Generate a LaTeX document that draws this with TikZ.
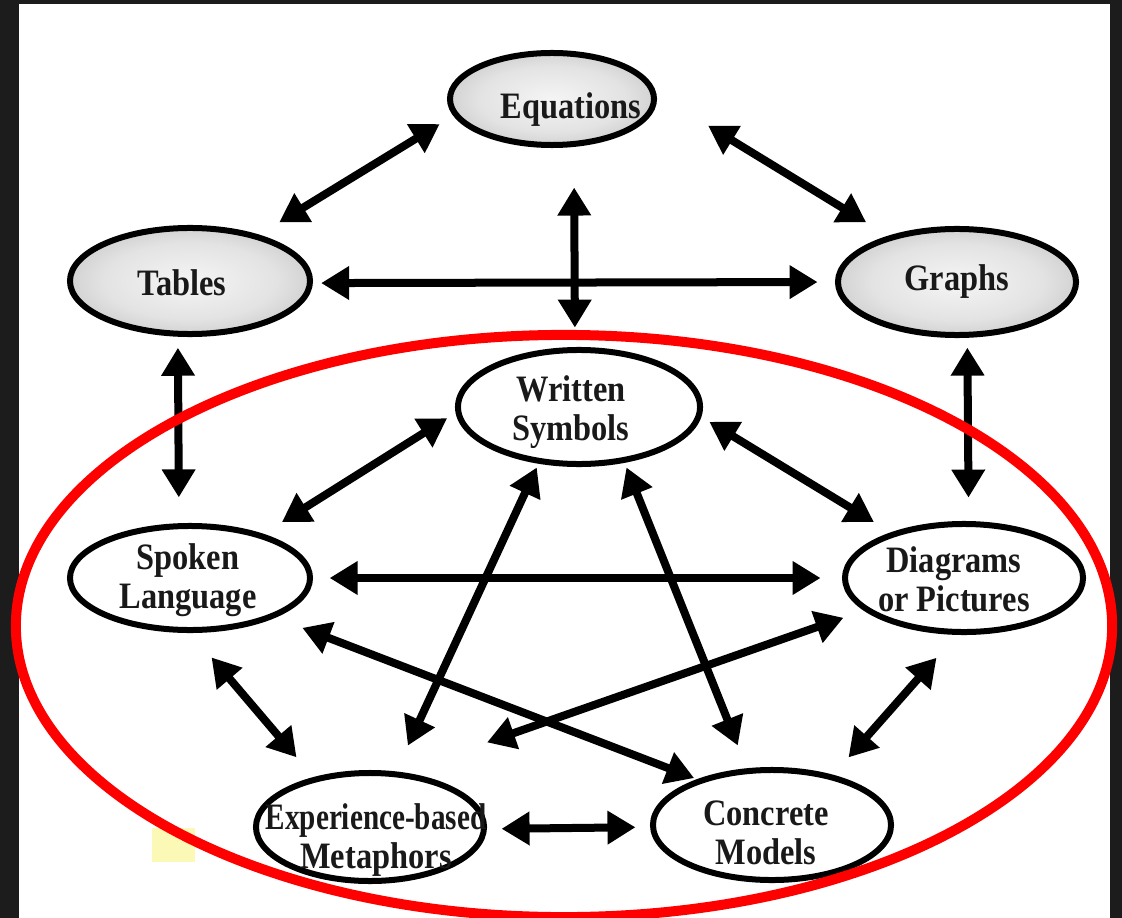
\documentclass[tikz,border=0pt]{standalone}
\usepackage{fontspec}
\setmainfont{Liberation Serif}[FakeStretch=0.87]
\usetikzlibrary{arrows.meta,shapes.geometric}
\definecolor{framedark}{RGB}{28,28,28}
\definecolor{marker}{RGB}{252,248,182}
\pgfdeclareradialshading{ovalshade}{\pgfpoint{0bp}{0bp}}{color(0bp)=(gray!8); color(18bp)=(gray!22); color(50bp)=(gray!80)}
\tikzset{
  oval/.style={ellipse, draw=black, line width=0.15cm, outer sep=0pt, inner sep=0pt, fill=white},
  grayoval/.style={oval, shade, shading=ovalshade},
  lab/.style={font=\fontsize{26.5pt}{28pt}\selectfont\bfseries, align=center, inner sep=0pt, text=black!90},
  link/.style={line width=0.2cm, {Triangle[length=0.7cm,width=0.8cm]}-{Triangle[length=0.7cm,width=0.8cm]}},
  gaps/.style 2 args={shorten <=#1, shorten >=#2}
}
\begin{document}
\begin{tikzpicture}[x=0.025cm,y=-0.025cm]
% page and frame
\useasboundingbox (0,0) rectangle (1122,918);
\fill[framedark] (0,0) rectangle (1122,918);
\fill[white] (19,4) rectangle (1110,918);
\fill[marker] (152,828) rectangle (195,862);

% representations
\node[grayoval, minimum width=5.1cm, minimum height=2.3cm] (eq) at (552,99) {};
\node[grayoval, minimum width=6.0cm, minimum height=2.65cm] (tab) at (190,281) {};
\node[grayoval, minimum width=5.95cm, minimum height=2.65cm] (gra) at (957,282) {};
\node[oval, minimum width=6.05cm, minimum height=2.85cm] (ws) at (579,407) {};
\node[oval, minimum width=6.0cm, minimum height=2.6cm] (sp) at (190,578) {};
\node[oval, minimum width=5.95cm, minimum height=2.7cm] (dia) at (964,578) {};
\node[oval, minimum width=5.7cm, minimum height=2.7cm] (met) at (370,827) {};
\node[oval, minimum width=5.95cm, minimum height=2.75cm] (con) at (772,825) {};

\node[lab] (eqt) at (571,110) {Equations};
\node[lab] (tabt) at (182,283) {Tables};
\node[lab] (grat) at (957,282) {Graphs};
\node[lab] (wst) at (571,412) {Written\\Symbols};
\node[lab] (spt) at (188,580) {Spoken\\Language};
\node[lab] (diat) at (954,579) {Diagrams\\or Pictures};
\node[lab] (mett) at (376,840) {\scalebox{0.9}[1]{Experience-based}\\Metaphors};
\node[lab] (cont) at (766,833) {Concrete\\Models};

% translations between representations
\draw[link, gaps={0.47cm}{0.69cm}] (eq.189.6) -- (tab.34);
\draw[link, gaps={1.62cm}{0.74cm}] (eq.4.5) -- (gra.146.4);
\draw[link, gaps={1.09cm}{0.56cm}] (eq.296.9) -- (ws.94);
\draw[link, gaps={0.28cm}{0.51cm}] (tab.359) -- (gra.180.5);
\draw[link, gaps={0.35cm}{0.72cm}] (tab.257.3) -- (sp.102.9);
\draw[link, gaps={0.32cm}{0.66cm}] (gra.281.7) -- (dia.85.8);
\draw[link, gaps={0.33cm}{0.64cm}] (ws.182.9) -- (sp.31.2);
\draw[link, gaps={0.31cm}{0.59cm}] (ws.356.9) -- (dia.148.9);
\draw[link, gaps={0.49cm}{0.61cm}] (sp.0) -- (dia.180);
\draw[link, gaps={0.18cm}{0.79cm}] (ws.234.4) -- (met.65.2);
\draw[link, gaps={0.20cm}{0.69cm}] (ws.310.1) -- (con.114.5);
\draw[link, gaps={0.82cm}{0.19cm}] (sp.335.1) -- (con.148.4);
\draw[link, gaps={0.63cm}{2.42cm}] (dia.198.1) -- (met.64.2);
\draw[link, gaps={0.90cm}{0.73cm}] (sp.268.8) -- (met.139.8);
\draw[link, gaps={0.86cm}{0.66cm}] (dia.265.7) -- (con.39.7);
\draw[link, gaps={0.44cm}{0.44cm}] (met.359.5) -- (con.181.4);

% red ring around the lower group
\draw[red, line width=0.25cm] (564,626) ellipse [x radius=13.7cm, y radius=7.275cm];
\end{tikzpicture}
\end{document}
